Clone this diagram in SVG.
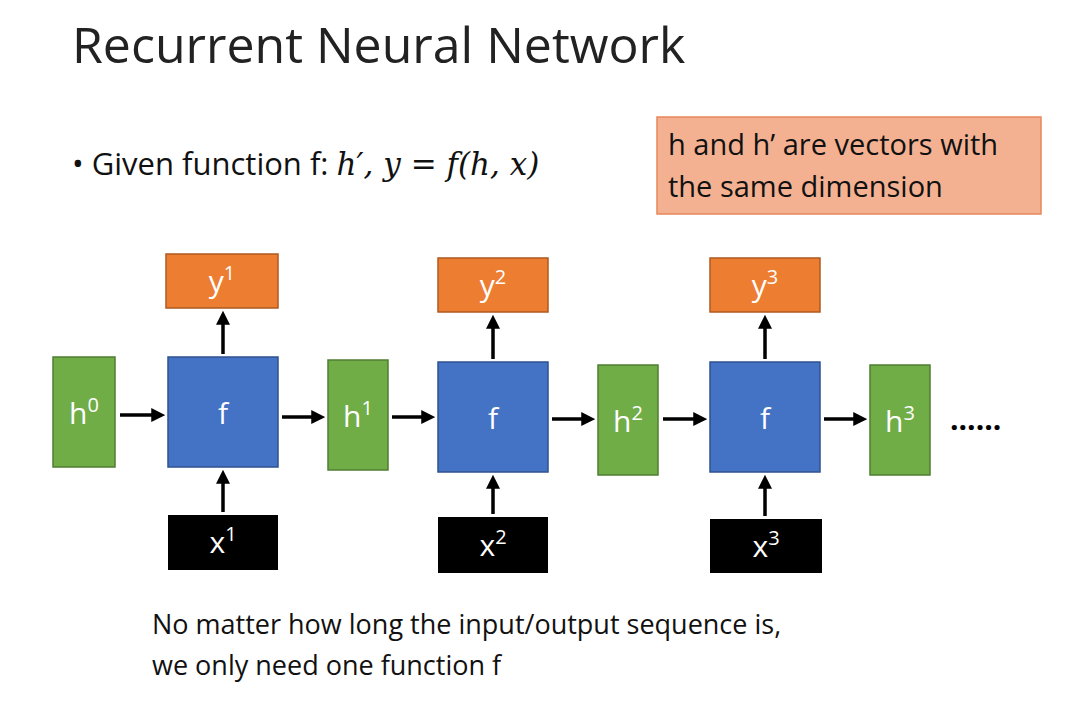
<svg xmlns="http://www.w3.org/2000/svg" width="1080" height="706" viewBox="0 0 1080 706">
<style>
text{font-family:"Open Sans","Liberation Sans",sans-serif;}
.h{fill:#70ad47;stroke:#507e32;stroke-width:1.5}
.f{fill:#4472c4;stroke:#2f528f;stroke-width:1.5}
.y{fill:#ed7d31;stroke:#ae5a21;stroke-width:1.5}
.x{fill:#000}
.lbl{fill:#fff;font-size:30px;text-anchor:middle}
.c line{stroke:#000;stroke-width:3.5;marker-end:url(#ah)}
.m{font-family:"DejaVu Serif","Liberation Serif",serif;font-style:italic}
</style>
<defs><marker id="ah" markerWidth="4" markerHeight="4" refX="2.5" refY="2" orient="auto"><path d="M0,0L4,2L0,4z" fill="#000"/></marker></defs>
<rect width="1080" height="706" fill="#fff"/>
<text x="72" y="63" font-size="50" fill="#222">Recurrent Neural Network</text>
<text x="72" y="175" font-size="31" fill="#111">• Given function f: <tspan class="m">h′, y = f(h, x)</tspan></text>
<g id="note"><rect x="657" y="117" width="384" height="97" fill="#f4b192" stroke="#e8875a" stroke-width="1.5"/>
<text x="668" y="155" font-size="29" fill="#111">h and h’ are vectors with</text>
<text x="668" y="197" font-size="29" fill="#111">the same dimension</text></g>
<g id="h0"><rect class="h" x="53" y="357" width="62" height="110"/><text class="lbl" x="84" y="424">h<tspan dy="-12" font-size="20">0</tspan></text></g>
<g id="f1"><rect class="f" x="168" y="357" width="110" height="110"/><text class="lbl" x="223" y="424">f</text></g>
<g id="y1"><rect class="y" x="166" y="254" width="112" height="54"/><text class="lbl" x="222" y="292">y<tspan dy="-12" font-size="20">1</tspan></text></g>
<g id="x1"><rect class="x" x="168" y="515" width="110" height="55"/><text class="lbl" x="223" y="553">x<tspan dy="-12" font-size="20">1</tspan></text></g>
<g id="h1"><rect class="h" x="328" y="360" width="60" height="110"/><text class="lbl" x="358" y="427">h<tspan dy="-12" font-size="20">1</tspan></text></g>
<g id="f2"><rect class="f" x="438" y="362" width="110" height="110"/><text class="lbl" x="493" y="429">f</text></g>
<g id="y2"><rect class="y" x="438" y="258" width="110" height="54"/><text class="lbl" x="493" y="296">y<tspan dy="-12" font-size="20">2</tspan></text></g>
<g id="x2"><rect class="x" x="438" y="517" width="110" height="56"/><text class="lbl" x="493" y="556">x<tspan dy="-12" font-size="20">2</tspan></text></g>
<g id="h2"><rect class="h" x="598" y="365" width="60" height="110"/><text class="lbl" x="628" y="432">h<tspan dy="-12" font-size="20">2</tspan></text></g>
<g id="f3"><rect class="f" x="710" y="362" width="110" height="110"/><text class="lbl" x="765" y="429">f</text></g>
<g id="y3"><rect class="y" x="710" y="258" width="110" height="54"/><text class="lbl" x="765" y="296">y<tspan dy="-12" font-size="20">3</tspan></text></g>
<g id="x3"><rect class="x" x="710" y="519" width="112" height="54"/><text class="lbl" x="766" y="557">x<tspan dy="-12" font-size="20">3</tspan></text></g>
<g id="h3"><rect class="h" x="870" y="365" width="60" height="110"/><text class="lbl" x="900" y="432">h<tspan dy="-12" font-size="20">3</tspan></text></g>
<text x="950" y="430" font-size="30" fill="#000" font-weight="bold">......</text>
<g class="c">
<line x1="120" y1="415" x2="160" y2="415"/>
<line x1="282" y1="417" x2="320" y2="417"/>
<line x1="392" y1="417" x2="430" y2="417"/>
<line x1="552" y1="419" x2="590" y2="419"/>
<line x1="663" y1="419" x2="702" y2="419"/>
<line x1="824" y1="419" x2="862" y2="419"/>
<line x1="223" y1="512" x2="223" y2="475"/>
<line x1="223" y1="354" x2="223" y2="316"/>
<line x1="493" y1="514" x2="493" y2="480"/>
<line x1="493" y1="359" x2="493" y2="320"/>
<line x1="765" y1="516" x2="765" y2="480"/>
<line x1="765" y1="359" x2="765" y2="320"/>
</g>
<text x="152" y="634" font-size="27" fill="#111">No matter how long the input/output sequence is,</text>
<text x="152" y="675" font-size="27" fill="#111">we only need one function f</text>
</svg>
